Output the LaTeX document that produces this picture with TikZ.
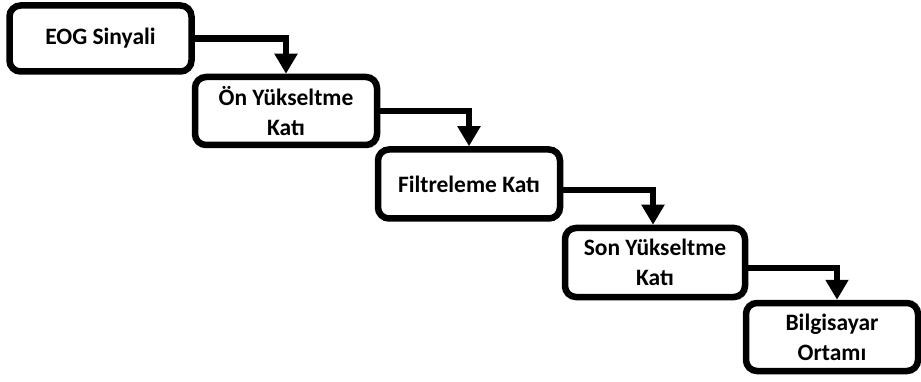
\documentclass[tikz,border=0pt]{standalone}
\usepackage{fontspec}
\setmainfont{Carlito}
\usetikzlibrary{arrows.meta}
\begin{document}
\begin{tikzpicture}[x=1pt,y=-1pt]
  \tikzstyle{stage node}=[rectangle,draw=black,line width=6.5pt,rounded corners=11pt,
    align=center,inner sep=0pt,font=\fontsize{23.5}{30}\selectfont\bfseries]
  \tikzstyle{flow arrow}=[line width=6.5pt,-{Triangle[width=22pt,length=20pt]}]
  \useasboundingbox (0,0) rectangle (921,382);
  \node(s1)[stage node,minimum width=182pt,minimum height=66pt] at (100.5,38.5){EOG Sinyali};
  \node(s2)[stage node,minimum width=182pt,minimum height=68pt] at (286,111){Ön Yükseltme\\Katı};
  \node(s3)[stage node,minimum width=182pt,minimum height=69pt] at (469,184){Filtreleme Katı};
  \node(s4)[stage node,minimum width=180pt,minimum height=69pt] at (655,262.5){Son Yükseltme\\Katı};
  \node(s5)[stage node,minimum width=172pt,minimum height=68pt] at (832,337){Bilgisayar\\Ortamı};
  \draw[flow arrow] (s1.east) -| (s2.north);
  \draw[flow arrow] (s2.east) -| (s3.north);
  \draw[flow arrow] ([yshift=-6pt]s3.east) -| ([xshift=-2pt]s4.north);
  \draw[flow arrow] ([yshift=-5.5pt]s4.east) -| ([xshift=5pt]s5.north);
\end{tikzpicture}
\end{document}
